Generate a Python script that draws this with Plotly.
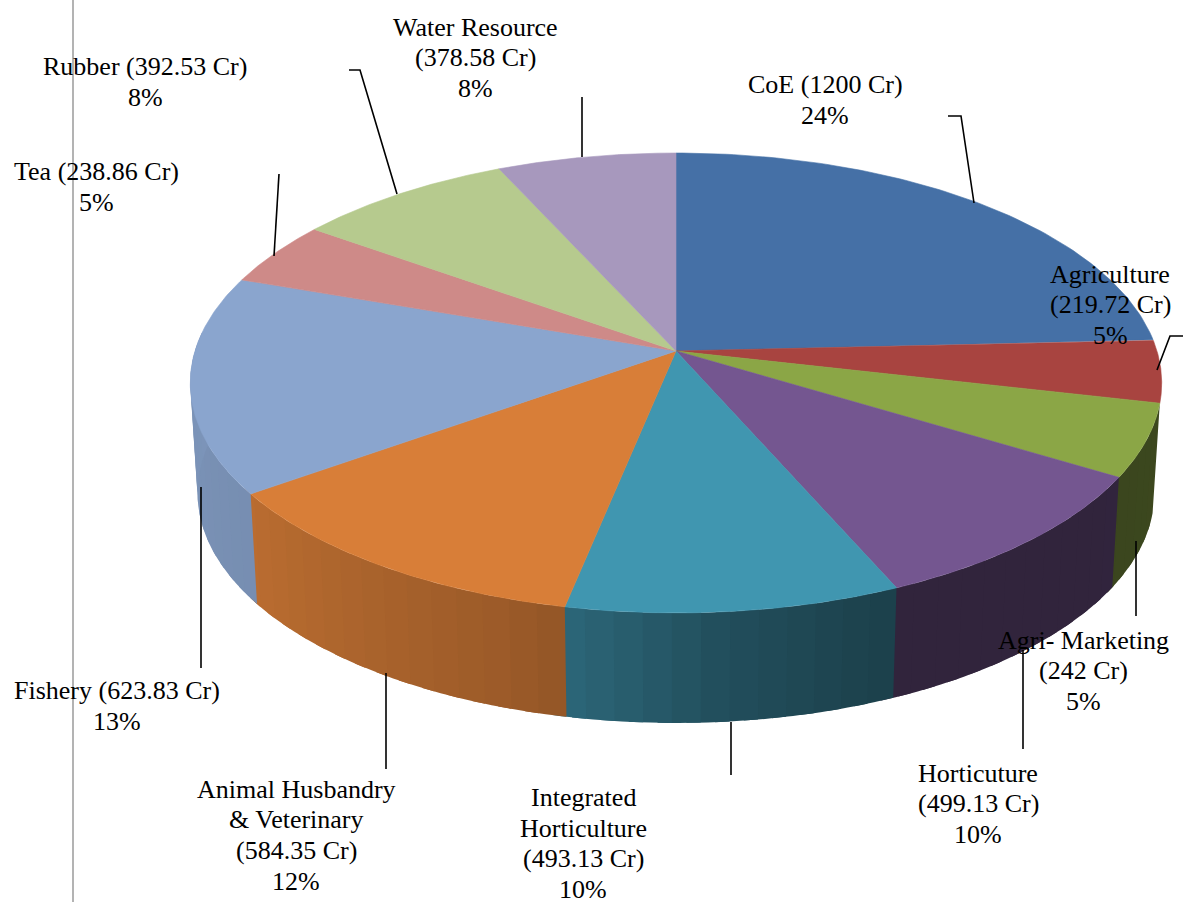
import numpy as np
import plotly.graph_objects as go

categories = ["CoE", "Agriculture", "Agri- Marketing", "Horticuture", "Integrated Horticulture",
              "Animal Husbandry & Veterinary", "Fishery", "Tea", "Rubber", "Water Resource"]
crore_values = [1200, 219.72, 242, 499.13, 493.13, 584.35, 623.83, 238.86, 392.53, 378.58]
labelled_pct = [24, 5, 5, 10, 10, 12, 13, 5, 8, 8]
# Slice sizes as drawn in the picture (% of the circle), estimated from the slice edges
drawn_share = [24.2, 4.4, 5.1, 9.75, 9.75, 11.9, 15.25, 4.55, 8.3, 6.8]

top_colors = ["#4570A6", "#A84440", "#8BA646", "#745690", "#4096B0",
              "#D87E38", "#8AA5CE", "#CE8A88", "#B6CA8E", "#A798BD"]

label_lines = [
    ["CoE (1200 Cr)", "24%"],
    ["Agriculture", "(219.72 Cr)", "5%"],
    ["Agri- Marketing", "(242 Cr)", "5%"],
    ["Horticuture", "(499.13 Cr)", "10%"],
    ["Integrated", "Horticulture", "(493.13 Cr)", "10%"],
    ["Animal Husbandry", "& Veterinary", "(584.35 Cr)", "12%"],
    ["Fishery (623.83 Cr)", "13%"],
    ["Tea (238.86 Cr)", "5%"],
    ["Rubber (392.53 Cr)", "8%"],
    ["Water Resource", "(378.58 Cr)", "8%"],
]
# layout: centre x and first line middle y of every label, line pitch
label_anchor = [(825, 84), (1110, 274), (1083, 640), (978, 773), (583, 797.5),
                (296, 789), (117, 690), (96, 171), (145, 66), (475, 27)]
LINE_PITCH = 30.5
leaders = [
    [(948, 116), (961, 116), (974, 203)],
    [(1183, 336), (1170, 336), (1157, 370)],
    [(1136, 541), (1136, 616)],
    [(1023, 650), (1023, 749)],
    [(731, 722), (731, 775)],
    [(386, 673), (386, 769)],
    [(201, 487), (201, 668)],
    [(274, 256), (279, 174)],
    [(349, 70), (360, 70), (397, 194)],
    [(582, 157), (582, 97)],
]

# projection of the tilted disc
CX, CY, A, B, K, DEPTH, SHRINK = 676, 351, 225.5, 481, 0.139, 110, 0.985


def rim(deg, lower=False):
    t = np.radians(deg)
    u, v = np.sin(t), -np.cos(t)
    den = 1 - K * v
    x, y = B * u / den, A * v / den
    if lower:
        return CX + x * SHRINK, CY + y + DEPTH
    return CX + x, CY + y


def shade(hex_color, f):
    rgb = [int(hex_color[i:i + 2], 16) for i in (1, 3, 5)]
    return "rgb({},{},{})".format(*[int(round(c * f)) for c in rgb])


edges = np.concatenate([[0], np.cumsum(drawn_share)]) * 3.6
edges = edges * 360 / edges[-1]

fig = go.Figure()

# side wall, in narrow overlapping strips so the shading can change along the rim
SIDE_START, SIDE_END = edges[2], 275
shade_angle = [85, 125, 156, 175, 191, 200, 234, 275]
shade_value = [0.44, 0.42, 0.42, 0.52, 0.68, 0.73, 0.86, 0.90]
for i, col in enumerate(top_colors):
    a0, a1 = max(edges[i], SIDE_START), min(edges[i + 1], SIDE_END)
    if a1 <= a0:
        continue
    steps = np.arange(a0, a1, 3.0).tolist() + [a1]
    for s0, s1 in zip(steps[:-1], steps[1:]):
        arc = np.linspace(s0, min(s1 + 1.5, SIDE_END), 5)
        x1, y1 = rim(arc)
        x2, y2 = rim(arc[::-1], lower=True)
        c = shade(col, float(np.interp((s0 + s1) / 2, shade_angle, shade_value)))
        fig.add_trace(go.Scatter(x=np.r_[x1, x2, x1[0]], y=np.r_[y1, y2, y1[0]], mode="none",
                                 fill="toself", fillcolor=c, hoverinfo="skip", showlegend=False))

# top face
for i, (name, col) in enumerate(zip(categories, top_colors)):
    arc = np.linspace(edges[i], edges[i + 1], 90)
    x, y = rim(arc)
    fig.add_trace(go.Scatter(x=np.r_[CX, x, CX], y=np.r_[CY, y, CY], mode="lines", fill="toself",
                             fillcolor=col, line=dict(color=col, width=0.6), name=name,
                             text=f"{crore_values[i]} Cr, {labelled_pct[i]}%", hoverinfo="name+text",
                             showlegend=False))

# leader lines
for pts in leaders:
    fig.add_trace(go.Scatter(x=[p[0] for p in pts], y=[p[1] for p in pts], mode="lines",
                             line=dict(color="black", width=1.6), hoverinfo="skip", showlegend=False))

annotations = []
for lines, (ax, ay) in zip(label_lines, label_anchor):
    for n, line in enumerate(lines):
        annotations.append(dict(x=ax, y=ay + n * LINE_PITCH, text=line, xref="x", yref="y",
                                showarrow=False, xanchor="center", yanchor="middle",
                                height=26 if line.endswith("%") else None,
                                font=dict(family="Liberation Serif", size=26, color="black")))

fig.update_layout(
    width=1185, height=902, margin=dict(l=0, r=0, t=0, b=0),
    paper_bgcolor="white", plot_bgcolor="white", showlegend=False,
    xaxis=dict(range=[0, 1185], visible=False, fixedrange=True),
    yaxis=dict(range=[902, 0], visible=False, fixedrange=True),
    annotations=annotations,
    shapes=[dict(type="line", xref="x", yref="y", x0=73, x1=73, y0=0, y1=902,
                 line=dict(color="#9A9A9A", width=1.5), layer="above")],
)

fig.write_html("out.html", config=dict(displayModeBar=False),
               post_script="document.body.style.margin='0';document.body.style.overflow='hidden';")
